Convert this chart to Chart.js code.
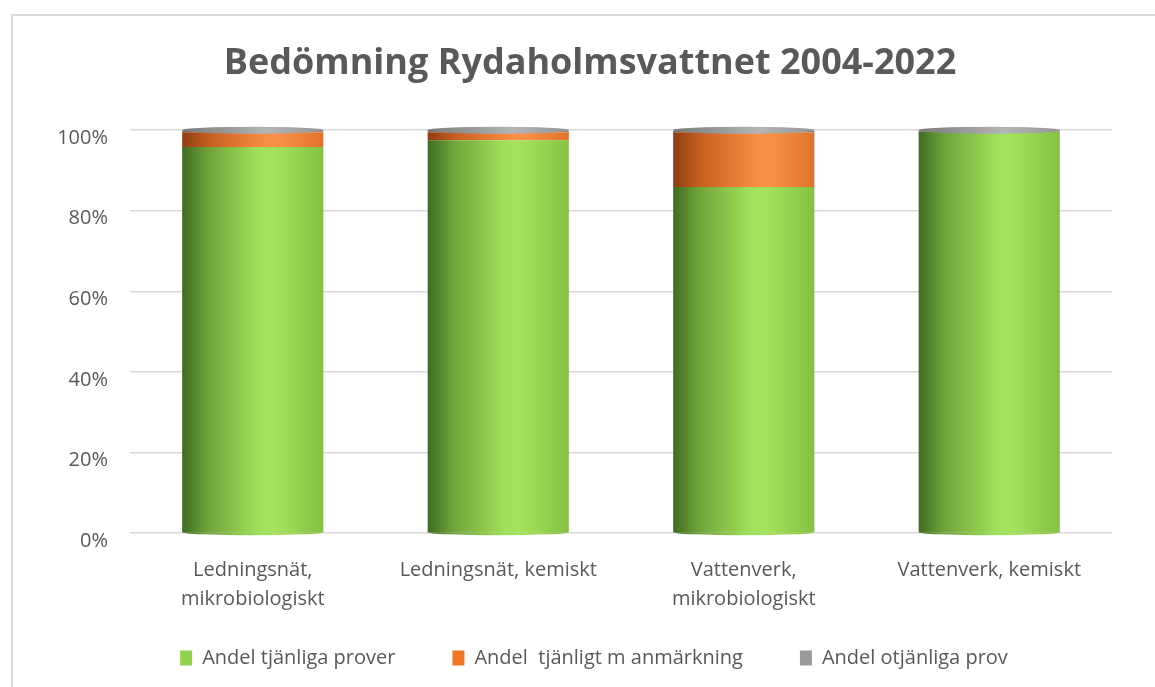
<!DOCTYPE html>
<html>
<head>
<meta charset="utf-8">
<script src="https://cdn.jsdelivr.net/npm/chart.js@4.4.1/dist/chart.umd.min.js"></script>
<style>
  html, body { margin: 0; padding: 0; background: #ffffff; }
  #wrap { position: relative; width: 1155px; height: 687px; overflow: hidden; }
  #frame { position: absolute; left: 11px; top: 14px; width: 1200px; height: 700px; border-left: 2px solid #d9d9d9; border-top: 2px solid #d9d9d9; }
  canvas { position: absolute; left: 0; top: 0; }
</style>
</head>
<body>
<div id="wrap">
  <div id="frame"></div>
  <canvas id="c" width="1155" height="687"></canvas>
</div>
<script>
const categories = [["Ledningsnät,", "mikrobiologiskt"], "Ledningsnät, kemiskt", ["Vattenverk,", "mikrobiologiskt"], "Vattenverk, kemiskt"];
const seriesNames = ["Andel tjänliga prover", "Andel  tjänligt m anmärkning", "Andel otjänliga prov"];
const tjanliga = [95.8, 97.5, 85.9, 99.6];
const anmarkning = [3.7, 2.0, 13.6, 0];
const otjanliga = [0.5, 0.5, 0.5, 0.4];
const yTicks = [0, 20, 40, 60, 80, 100];

const BAR_FRACTION = 0.575;

function makeGradient(c, x0, x1, stops) {
  const g = c.createLinearGradient(x0, 0, x1, 0);
  stops.forEach(s => g.addColorStop(s[0], s[1]));
  return g;
}

function cylinderFill(stops, solid) {
  return function (ctx) {
    const chart = ctx.chart;
    const area = chart.chartArea;
    if (!area || ctx.dataIndex === undefined) return solid;
    const cx = chart.scales.x.getPixelForValue(ctx.dataIndex);
    const w = (area.width / categories.length) * BAR_FRACTION;
    return makeGradient(chart.ctx, cx - w / 2, cx + w / 2, stops);
  };
}

const greenStops = [[0, '#3f6b22'], [0.18, '#6fa43a'], [0.55, '#a3e05a'], [0.65, '#a6e35c'], [1, '#84c043']];
const orangeStops = [[0, '#8e3d12'], [0.2, '#c8601f'], [0.6, '#f98e45'], [0.7, '#f99048'], [1, '#e0732a']];
const greyStops = [[0, '#6d6d6d'], [0.6, '#a8a8a8'], [1, '#8a8a8a']];

const layoutTweak = {
  id: 'layoutTweak',
  beforeLayout(chart) {
    const lg = chart.legend;
    if (lg && !lg._patched) {
      const f = lg.fit;
      lg.fit = function () { f.call(this); this.height = 71; };
      lg._patched = true;
    }
  },
  afterLayout(chart) {
    const lg = chart.legend;
    if (lg) { lg.top -= 25; lg.left += 13; lg.right += 13; }
    const tb = chart.titleBlock;
    if (tb) { tb.left += 9; tb.right += 9; }
  }
};

const cylinderCaps = {
  id: 'cylinderCaps',
  afterDatasetsDraw(chart) {
    const c = chart.ctx;
    const n = chart.data.labels.length;
    const metas = chart.data.datasets.map((d, i) => chart.getDatasetMeta(i));
    for (let i = 0; i < n; i++) {
      const base = metas[0].data[i];
      const top = metas[metas.length - 1].data[i];
      const rx = base.width / 2;
      c.save();
      c.beginPath();
      c.ellipse(base.x, base.base, rx, 3, 0, 0, Math.PI);
      c.fillStyle = makeGradient(c, base.x - rx, base.x + rx, greenStops);
      c.fill();
      c.beginPath();
      c.ellipse(top.x, top.y, rx, 3.5, 0, 0, Math.PI * 2);
      c.fillStyle = makeGradient(c, top.x - rx, top.x + rx, [[0, '#7a7a7a'], [0.6, '#b5b5b5'], [1, '#959595']]);
      c.fill();
      c.restore();
    }
  }
};

Chart.defaults.font.family = "'Open Sans', 'DejaVu Sans', sans-serif";
Chart.defaults.color = '#595959';

new Chart(document.getElementById('c'), {
  type: 'bar',
  data: {
    labels: categories,
    datasets: [
      { label: seriesNames[0], data: tjanliga, backgroundColor: cylinderFill(greenStops, '#92d050'), borderWidth: 0 },
      { label: seriesNames[1], data: anmarkning, backgroundColor: cylinderFill(orangeStops, '#f07a2a'), borderWidth: 0 },
      { label: seriesNames[2], data: otjanliga, backgroundColor: cylinderFill(greyStops, '#999999'), borderWidth: 0 }
    ]
  },
  options: {
    responsive: false,
    animation: false,
    devicePixelRatio: 1,
    layout: { padding: { left: 50, right: 43, top: 0, bottom: 0 } },
    datasets: { bar: { barPercentage: BAR_FRACTION, categoryPercentage: 1 } },
    scales: {
      x: {
        stacked: true,
        grid: { display: false, drawTicks: false },
        border: { display: false },
        ticks: { font: { size: 20, lineHeight: 1.45 }, color: '#595959', padding: 23, maxRotation: 0, autoSkip: false },
        afterFit(scale) { scale.height = 83; }
      },
      y: {
        stacked: true,
        min: 0,
        max: 100,
        afterBuildTicks(scale) { scale.ticks = yTicks.map(v => ({ value: v })); },
        grid: { color: '#d9d9d9', lineWidth: 1.5, drawTicks: false },
        border: { display: false },
        ticks: { font: { size: 20 }, color: '#595959', padding: 22, labelOffset: 8, callback: v => v + '%' },
        afterFit(scale) { scale.width = 80; }
      }
    },
    plugins: {
      title: {
        display: true,
        text: 'Bedömning Rydaholmsvattnet 2004-2022',
        color: '#595959',
        font: { size: 36, weight: 'bold' },
        padding: { top: 42, bottom: 45 }
      },
      legend: {
        position: 'bottom',
        labels: {
          font: { size: 20 },
          color: '#595959',
          boxWidth: 12,
          boxHeight: 15,
          padding: 57,
          generateLabels(chart) {
            const solids = ['#92d050', '#ef7424', '#9a9a9a'];
            return chart.data.datasets.map((ds, i) => ({
              text: ds.label, fillStyle: solids[i], strokeStyle: solids[i], lineWidth: 0,
              hidden: false, datasetIndex: i, fontColor: '#595959'
            }));
          }
        }
      },
      tooltip: { enabled: false }
    }
  },
  plugins: [layoutTweak, cylinderCaps]
});
</script>
</body>
</html>
